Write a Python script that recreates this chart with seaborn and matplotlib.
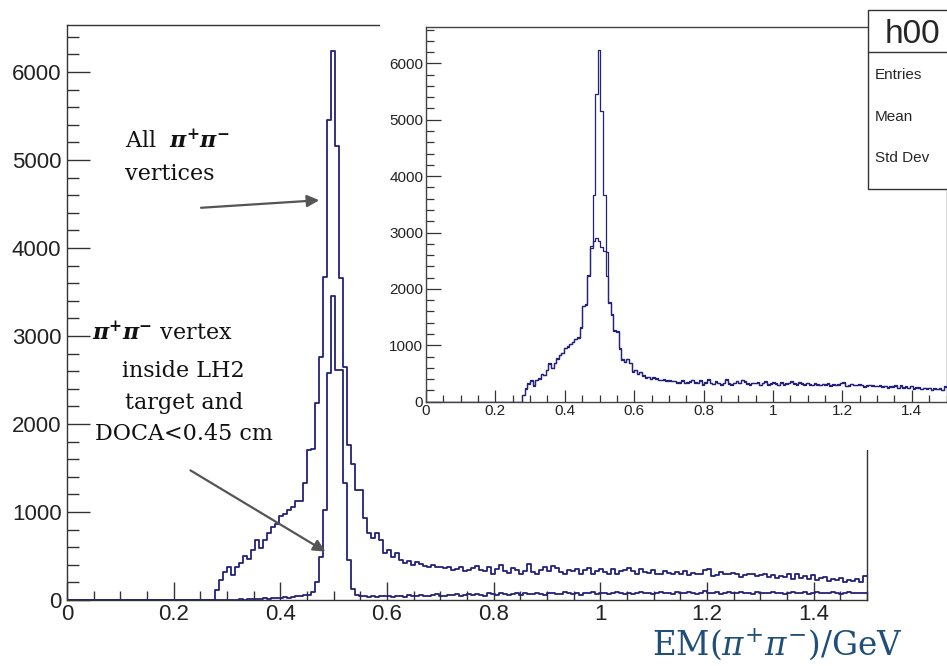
import numpy as np
import pandas as pd
import seaborn as sns
import matplotlib.pyplot as plt
from matplotlib.patches import Rectangle
from matplotlib.lines import Line2D
from matplotlib.ticker import MultipleLocator, FuncFormatter

sns.set_style("ticks")
plt.rcParams['font.family'] = ['Liberation Sans', 'DejaVu Sans']
plt.rcParams['mathtext.fontset'] = 'dejavuserif'

#%% Data: 200 bins of 0.0075 GeV between 0 and 1.5
BIN_W = 0.0075

# all pi+pi- vertices (main plot and inset)
all_vtx = [
    0, 0, 0, 0, 0, 0, 0, 0, 0, 0, 0, 0, 0, 0, 0, 0, 0, 0, 0, 0,
    0, 0, 0, 0, 0, 0, 0, 0, 0, 0, 0, 0, 0, 0, 0, 0, 0,
    115, 230, 320, 380, 285, 380, 420, 500, 470, 570,
    680, 590, 680, 760, 830, 860, 950, 980, 1020, 1060,
    1120, 1130, 1330, 1705, 1720, 2235, 2765, 3670, 5455, 6240,
    5160, 3660, 2650, 1760, 1550, 1250, 1250, 930, 760, 700,
    760, 680, 530, 570, 490, 530, 460, 420, 440, 400,
    430, 410, 390, 380, 400, 370, 380, 360, 370, 340, 350, 380, 330,
    340, 360, 390, 340, 330, 380, 300, 350, 400, 330, 310, 360, 340, 300, 330, 410, 320, 300, 340, 370,
    330, 390, 360, 320, 300, 340, 330, 350, 290, 340, 360, 300, 330, 350, 320, 290, 350, 300, 330, 340,
    360, 330, 300, 350, 320, 310, 340, 300, 290, 330, 310, 290, 320, 300, 330, 280, 310, 290, 300, 340,
    350, 270, 280, 320, 300, 290, 310, 300, 260, 280, 300, 290, 270, 280, 290, 260, 280, 250, 270, 260,
    290, 240, 290, 250, 270, 240, 280, 230, 250, 260, 220, 240, 230, 250, 200, 230, 220, 240, 200, 270,
]

# vertex inside LH2 target and DOCA<0.45 cm
inside_vtx = [
    0, 0, 0, 0, 0, 0, 0, 0, 0, 0, 0, 0, 0, 0, 0, 0, 0, 0, 0, 0,
    0, 0, 0, 0, 0, 0, 0, 0, 0, 0, 0, 0, 0, 0, 0, 0, 0, 0, 0, 0, 0,
    5, 0, 8, 5, 10, 12, 8, 15, 18, 12, 20, 25, 18, 30, 28, 35, 40, 45, 55,
    60, 90, 210, 490, 1020, 2580, 3450, 2610, 2610, 1330,
    450, 130, 60, 45, 40, 30, 50, 35, 40, 45,
    40, 30, 50, 45, 35, 55, 40, 50, 60, 45, 40, 55, 65, 50, 45, 60, 55, 70, 50, 60,
    65, 55, 70, 60, 50, 75, 65, 60, 80, 70, 55, 65, 75, 60, 85, 70, 65, 80, 70, 60,
    75, 80, 65, 70, 90, 75, 70, 85, 60, 75, 80, 95, 70, 75, 85, 65, 80, 90, 75, 70,
    85, 70, 80, 95, 75, 80, 65, 85, 90, 75, 80, 70, 95, 80, 75, 90, 80, 70, 85, 100,
    75, 80, 90, 70, 85, 95, 80, 75, 90, 85, 80, 70, 90, 85, 80, 75, 90, 80, 85, 70,
    80, 90, 75, 85, 95, 70, 80, 90, 85, 75, 80, 95, 80, 70, 85, 90, 75, 80, 85, 80,
]

# second histogram of the inset (broader peak)
inset_alt = [
    0, 0, 0, 0, 0, 0, 0, 0, 0, 0, 0, 0, 0, 0, 0, 0, 0, 0, 0, 0,
    0, 0, 0, 0, 0, 0, 0, 0, 0, 0, 0, 0, 0, 0, 0, 0, 0,
    120, 240, 330, 370, 300, 390, 410, 490, 480, 560, 670, 600,
    690, 770, 820, 870, 960, 970, 1030, 1050, 1110, 1150, 1310, 1690,
    1740, 2240, 2720, 2850, 2900, 2850, 2750, 2680, 2230, 1750,
    1540, 1270, 1230, 950, 740, 710, 750, 690, 540, 560, 500, 520, 470, 430, 430, 410,
    420, 420, 380, 390, 390, 380, 370, 370, 360, 350, 340, 370, 340,
    350, 350, 380, 350, 340, 370, 310, 340, 390, 340, 320, 350, 330, 310, 340, 390, 330, 310, 330, 360,
    340, 380, 350, 330, 310, 330, 340, 340, 300, 330, 350, 310, 320, 340, 330, 300, 340, 310, 320, 330,
    350, 320, 310, 340, 330, 300, 330, 310, 300, 320, 300, 300, 310, 310, 320, 290, 300, 300, 310, 330,
    330, 280, 290, 310, 290, 300, 300, 290, 270, 290, 290, 280, 280, 270, 280, 270, 270, 260, 260, 270,
    280, 250, 280, 260, 260, 250, 270, 240, 260, 250, 230, 250, 240, 240, 210, 240, 230, 230, 210, 260,
]

df = pd.DataFrame({
    'center': (np.arange(200) + 0.5) * BIN_W,
    'all_vtx': all_vtx,
    'inside_vtx': inside_vtx,
    'inset_alt': inset_alt,
})

NAVY = '#22227a'
W, H = 947, 666


def box(l, t, r, b):
    # pixel box (from top-left) -> figure fraction rect
    return [l / W, 1 - b / H, (r - l) / W, (b - t) / H]


def step_hist(col, ax, lw):
    sns.histplot(data=df, x='center', weights=col, binwidth=BIN_W, binrange=(0, 1.5),
                 element='step', fill=False, color=NAVY, lw=lw, ax=ax)


root_fmt = FuncFormatter(lambda v, p: '%g' % round(v, 3))

fig = plt.figure(figsize=(W / 100, H / 100), dpi=100)

#%% Main histogram
ax = fig.add_axes(box(67, 25, 867, 600))
step_hist('all_vtx', ax, 1.3)
step_hist('inside_vtx', ax, 1.3)
ax.set_xlim(0, 1.5)
ax.set_ylim(0, 6534)
ax.set_xlabel('')
ax.set_ylabel('')
ax.xaxis.set_major_locator(MultipleLocator(0.2))
ax.xaxis.set_minor_locator(MultipleLocator(0.05))
ax.yaxis.set_major_locator(MultipleLocator(1000))
ax.yaxis.set_minor_locator(MultipleLocator(200))
ax.xaxis.set_major_formatter(root_fmt)
ax.tick_params(which='both', direction='in', color='#333333', width=1)
ax.tick_params(axis='y', which='major', length=16.5, labelsize=16, pad=4, labelcolor='#222222')
ax.tick_params(axis='y', which='minor', length=8.5)
ax.tick_params(axis='x', which='major', length=13, labelsize=16, pad=3, labelcolor='#222222')
ax.tick_params(axis='x', which='minor', length=6.5)
for s in ax.spines.values():
    s.set_color('#333333')
    s.set_linewidth(1)

# annotations
txt_kw = dict(family='DejaVu Serif', fontsize=16, color='#111111', va='baseline')
ax.text(0.109, 5136, r'All  $\mathbfit{\pi}^{\mathbf{+}}\mathbfit{\pi}^{\mathbf{-}}$', **txt_kw)
ax.text(0.109, 4773, 'vertices', **txt_kw)
ax.annotate('', xy=(0.478, 4545), xytext=(0.246, 4455),
            arrowprops=dict(arrowstyle='-|>', color='#555555', lw=1.6, mutation_scale=18))
ax.text(0.047, 2955, r'$\mathbfit{\pi}^{\mathbf{+}}\mathbfit{\pi}^{\mathbf{-}}$ vertex', **txt_kw)
ax.text(0.219, 2534, 'inside LH2', ha='center', **txt_kw)
ax.text(0.219, 2170, 'target and', ha='center', **txt_kw)
ax.text(0.219, 1818, 'DOCA<0.45 cm', ha='center', **txt_kw)
ax.annotate('', xy=(0.489, 534), xytext=(0.227, 1489),
            arrowprops=dict(arrowstyle='-|>', color='#555555', lw=1.6, mutation_scale=18))

# white area behind the inset
fig.add_artist(Rectangle((380 / W, 1 - 450 / H), 600 / W, 450 / H, transform=fig.transFigure,
                         facecolor='white', edgecolor='none', zorder=1))

#%% Inset
axi = fig.add_axes(box(426, 26.7, 946.5, 401.7))
axi.set_zorder(2)
step_hist('all_vtx', axi, 0.9)
step_hist('inset_alt', axi, 0.9)
axi.set_xlim(0, 1.5)
axi.set_ylim(0, 6650)
axi.set_xlabel('')
axi.set_ylabel('')
axi.xaxis.set_major_locator(MultipleLocator(0.2))
axi.xaxis.set_minor_locator(MultipleLocator(0.05))
axi.yaxis.set_major_locator(MultipleLocator(1000))
axi.yaxis.set_minor_locator(MultipleLocator(200))
axi.xaxis.set_major_formatter(root_fmt)
axi.tick_params(which='both', direction='in', color='#333333', width=0.9)
axi.tick_params(axis='y', which='major', length=11, labelsize=11, pad=2, labelcolor='#222222')
axi.tick_params(axis='y', which='minor', length=6)
axi.tick_params(axis='x', which='major', length=8.5, labelsize=11, pad=2, labelcolor='#222222')
axi.tick_params(axis='x', which='minor', length=5)
for s in axi.spines.values():
    s.set_color('#444444')
    s.set_linewidth(1)

# stats box (cut by the picture edge)
fig.add_artist(Rectangle((868 / W, 1 - 189 / H), 120 / W, 179 / H, transform=fig.transFigure,
                         facecolor='white', edgecolor='#333333', lw=1, zorder=3))
fig.add_artist(Line2D([868 / W, 1.05], [1 - 51.7 / H] * 2, color='#333333', lw=1, zorder=4))
fig.text(885 / W, 1 - 43 / H, 'h00', fontsize=24, va='baseline', zorder=5)
for label, ypx in [('Entries', 75), ('Mean', 117), ('Std Dev', 158)]:
    fig.text(875 / W, 1 - ypx / H, label, fontsize=11, va='center', zorder=5)

#%% Axis title
fig.text(778 / W, 1 - 655 / H, r'$\mathrm{EM}(\pi^{+}\pi^{-})/\mathrm{GeV}$',
         fontsize=23.5, color='#1f4e79', ha='center', va='baseline')

fig.savefig('out.png', dpi=100)
